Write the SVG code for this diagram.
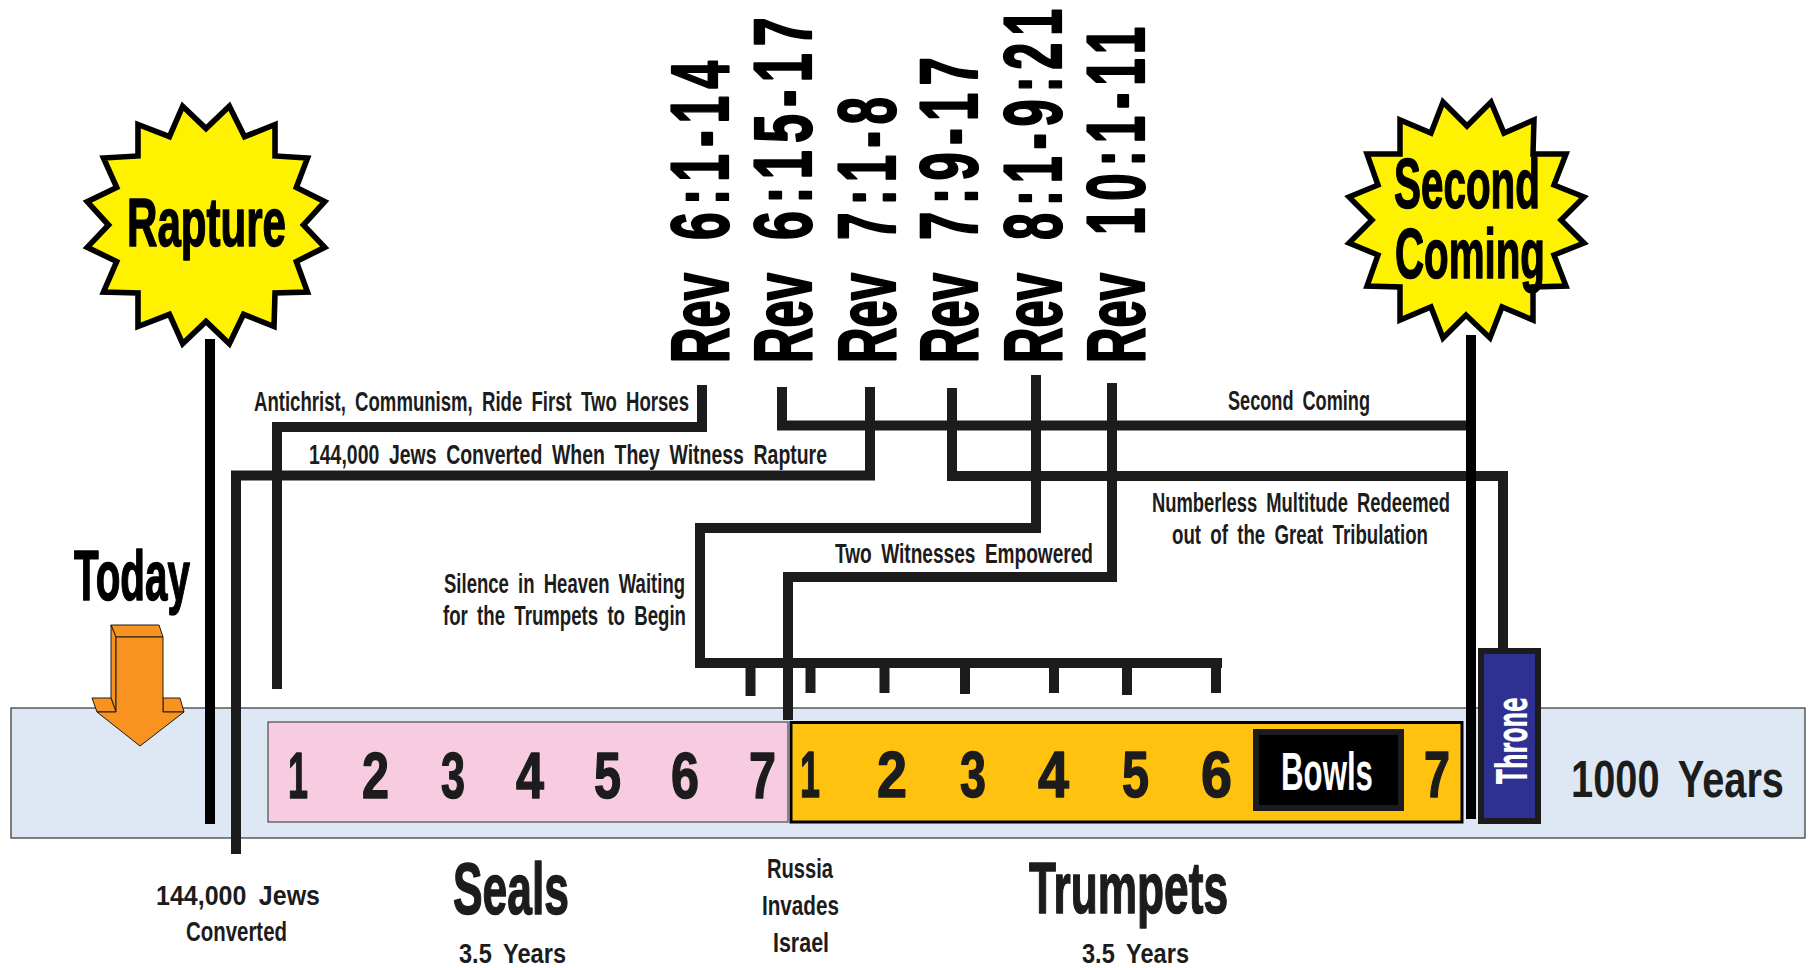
<svg xmlns="http://www.w3.org/2000/svg" width="1809" height="968" viewBox="0 0 1809 968">
<style>
text{font-family:"Liberation Sans","Arial",sans-serif;font-weight:700;fill:#1c1c1c}
.s{font-size:28px;word-spacing:.22em}
.d{font-size:65px;stroke:#1c1c1c;stroke-width:1.500;stroke-linejoin:round}
.hv{stroke:#000;stroke-width:1.500;stroke-linejoin:round}
.r{font-size:82px;fill:#000;stroke:#000;stroke-width:2.200;stroke-linejoin:round}
.r tspan+tspan{letter-spacing:.14em}
.c{fill:none;stroke:#1c1c1c;stroke-width:10;stroke-linejoin:miter}
.b{fill:none;stroke:#000;stroke-width:10}
.star{fill:#fff200;stroke:#000;stroke-width:5.500;stroke-linejoin:miter;stroke-miterlimit:8}
.ar{fill:#f7931e;stroke:#1c1c1c;stroke-width:1;stroke-linejoin:miter}
</style>
<g id="timeline-band"><rect x="11" y="708" width="1794" height="130" fill="#dee8f4" stroke="#333" stroke-width="1.200"/></g>
<g id="seals-bar"><rect x="268" y="722" width="520" height="100" fill="#f8cce0" stroke="#555" stroke-width="1.300"/>
<text class="d" x="288" y="798" textLength="20" lengthAdjust="spacingAndGlyphs">1</text>
<text class="d" x="362" y="798" textLength="27" lengthAdjust="spacingAndGlyphs">2</text>
<text class="d" x="441" y="798" textLength="24" lengthAdjust="spacingAndGlyphs">3</text>
<text class="d" x="516" y="798" textLength="28" lengthAdjust="spacingAndGlyphs">4</text>
<text class="d" x="594" y="798" textLength="27" lengthAdjust="spacingAndGlyphs">5</text>
<text class="d" x="671" y="798" textLength="28" lengthAdjust="spacingAndGlyphs">6</text>
<text class="d" x="749" y="798" textLength="27" lengthAdjust="spacingAndGlyphs">7</text>
</g>
<g id="trumpets-bar"><rect x="791" y="722.500" width="671" height="99.500" fill="#fec20f" stroke="#000" stroke-width="3"/>
<text class="d" x="800" y="797" textLength="20" lengthAdjust="spacingAndGlyphs">1</text>
<text class="d" x="877" y="797" textLength="30" lengthAdjust="spacingAndGlyphs">2</text>
<text class="d" x="960" y="797" textLength="26" lengthAdjust="spacingAndGlyphs">3</text>
<text class="d" x="1038" y="797" textLength="31" lengthAdjust="spacingAndGlyphs">4</text>
<text class="d" x="1122" y="797" textLength="27" lengthAdjust="spacingAndGlyphs">5</text>
<text class="d" x="1201" y="797" textLength="31" lengthAdjust="spacingAndGlyphs">6</text>
<text class="d" x="1424" y="797" textLength="26" lengthAdjust="spacingAndGlyphs">7</text>
</g>
<g id="bowls"><rect x="1256" y="732" width="145" height="76" fill="#000" stroke="#1c1c1c" stroke-width="6"/>
<text x="1281" y="790" font-size="54" textLength="92" lengthAdjust="spacingAndGlyphs" style="fill:#fff">Bowls</text></g>
<g id="connectors">
<path class="c" d="M702 385V427H277V689"/>
<path class="c" d="M870 387V475.500H236V854"/>
<path class="c" d="M782 387V425.500H1466"/>
<path class="c" d="M952 388V476H1503V648"/>
<path class="c" d="M1036 375V528H700V664"/>
<path class="c" d="M695 663H1222"/>
<path class="c" d="M750.500 668V696M810.500 668V693M884.500 668V693M965 668V694M1054 668V693M1127 668V695M1216 668V693"/>
<path class="c" d="M1112 383V577H788V720"/>
<path class="b" d="M210 339V824"/>
<path class="b" d="M1471 335V819"/>
</g>
<g id="throne"><rect x="1481" y="651" width="57" height="170" fill="#2e3192" stroke="#1c1c1c" stroke-width="6"/>
<text transform="translate(1527 784) rotate(-90)" font-size="42" textLength="87" lengthAdjust="spacingAndGlyphs" style="fill:#fff;font-family:'DejaVu Sans','Liberation Sans',sans-serif">Throne</text></g>
<g id="today"><text class="hv" x="74" y="600" font-size="70" textLength="116" lengthAdjust="spacingAndGlyphs" style="fill:#000">Today</text>
<path class="ar" d="M111 625H159L163 637H116Z"/>
<path class="ar" d="M111 625L116 637V712L111 698Z"/>
<path class="ar" d="M92 698H111L116 712H97Z"/>
<path class="ar" d="M163 698H180L184 712H163Z"/>
<path class="ar" d="M116 637H163V712H184L140 746L97 712H116Z"/></g>
<g id="rapture"><polygon class="star" transform="translate(206 225) scale(1.015) translate(-206 -225)" points="183,108 206,130 229,108 244,138 274,126 274,157 306,159 295,188 323,202 302,225 323,247 295,261 306,291 274,292 273,325 243,313 229,342 206,320 183,342 170,313 139,325 139,292 105,291 118,261 89,247 110,225 89,202 118,188 105,159 139,157 139,126 170,138"/>
<text class="hv" x="127" y="246" font-size="68" textLength="159" lengthAdjust="spacingAndGlyphs" style="fill:#000">Rapture</text></g>
<g id="second-coming"><polygon class="star" points="1443,102 1467,126 1491,102 1504,133 1534,120 1533,154 1566,154 1554,185 1584,197 1561,220 1584,243 1554,255 1566,286 1533,287 1533,320 1502,307 1490,338 1466,315 1443,338 1431,307 1400,320 1400,287 1367,286 1378,255 1349,243 1372,220 1349,197 1378,185 1367,154 1400,154 1400,120 1431,133"/>
<text class="hv" x="1394" y="208" font-size="70" textLength="146" lengthAdjust="spacingAndGlyphs" style="fill:#000">Second</text>
<text class="hv" x="1395" y="278" font-size="70" textLength="150" lengthAdjust="spacingAndGlyphs" style="fill:#000">Coming</text></g>
<g id="rev-6-1"><text class="r" transform="translate(728 363) rotate(-90)"><tspan x="0" textLength="90" lengthAdjust="spacingAndGlyphs">Rev</tspan><tspan x="123" textLength="186" lengthAdjust="spacingAndGlyphs">6:1-14</tspan></text></g>
<g id="rev-6-15"><text class="r" transform="translate(811 363) rotate(-90)"><tspan x="0" textLength="90" lengthAdjust="spacingAndGlyphs">Rev</tspan><tspan x="123" textLength="230" lengthAdjust="spacingAndGlyphs">6:15-17</tspan></text></g>
<g id="rev-7-1"><text class="r" transform="translate(895 363) rotate(-90)"><tspan x="0" textLength="90" lengthAdjust="spacingAndGlyphs">Rev</tspan><tspan x="123" textLength="150" lengthAdjust="spacingAndGlyphs">7:1-8</tspan></text></g>
<g id="rev-7-9"><text class="r" transform="translate(977 363) rotate(-90)"><tspan x="0" textLength="90" lengthAdjust="spacingAndGlyphs">Rev</tspan><tspan x="123" textLength="190" lengthAdjust="spacingAndGlyphs">7:9-17</tspan></text></g>
<g id="rev-8-1"><text class="r" transform="translate(1061 363) rotate(-90)"><tspan x="0" textLength="90" lengthAdjust="spacingAndGlyphs">Rev</tspan><tspan x="123" textLength="238" lengthAdjust="spacingAndGlyphs">8:1-9:21</tspan></text></g>
<g id="rev-10-1"><text class="r" transform="translate(1144 363) rotate(-90)"><tspan x="0" textLength="90" lengthAdjust="spacingAndGlyphs">Rev</tspan><tspan x="128" textLength="215" lengthAdjust="spacingAndGlyphs">10:1-11</tspan></text></g>
<g id="labels">
<text class="s" x="254" y="411" textLength="435" lengthAdjust="spacingAndGlyphs">Antichrist, Communism, Ride First Two Horses</text>
<text class="s" x="309" y="464" textLength="518" lengthAdjust="spacingAndGlyphs">144,000 Jews Converted When They Witness Rapture</text>
<text class="s" x="1228" y="410" textLength="142" lengthAdjust="spacingAndGlyphs">Second Coming</text>
<text class="s" x="1152" y="512" textLength="298" lengthAdjust="spacingAndGlyphs">Numberless Multitude Redeemed</text>
<text class="s" x="1172" y="544" textLength="256" lengthAdjust="spacingAndGlyphs">out of the Great Tribulation</text>
<text class="s" x="835" y="563" textLength="258" lengthAdjust="spacingAndGlyphs">Two Witnesses Empowered</text>
<text class="s" x="444" y="593" textLength="241" lengthAdjust="spacingAndGlyphs">Silence in Heaven Waiting</text>
<text class="s" x="443" y="625" textLength="243" lengthAdjust="spacingAndGlyphs">for the Trumpets to Begin</text>
<text class="s" x="156" y="905" textLength="164" lengthAdjust="spacingAndGlyphs">144,000 Jews</text>
<text class="s" x="186" y="941" textLength="101" lengthAdjust="spacingAndGlyphs">Converted</text>
<text class="s" x="767" y="878" textLength="66" lengthAdjust="spacingAndGlyphs">Russia</text>
<text class="s" x="762" y="915" textLength="77" lengthAdjust="spacingAndGlyphs">Invades</text>
<text class="s" x="773" y="952" textLength="56" lengthAdjust="spacingAndGlyphs">Israel</text>
<text class="d" x="453" y="914" style="font-size:72px" textLength="116" lengthAdjust="spacingAndGlyphs">Seals</text>
<text class="s" x="459" y="963" textLength="107" lengthAdjust="spacingAndGlyphs">3.5 Years</text>
<text class="d" x="1029" y="913" style="font-size:72px" textLength="199" lengthAdjust="spacingAndGlyphs">Trumpets</text>
<text class="s" x="1082" y="963" textLength="107" lengthAdjust="spacingAndGlyphs">3.5 Years</text>
<text x="1571" y="797" font-size="52" textLength="213" lengthAdjust="spacingAndGlyphs" style="word-spacing:.2em">1000 Years</text>
</g>
</svg>
